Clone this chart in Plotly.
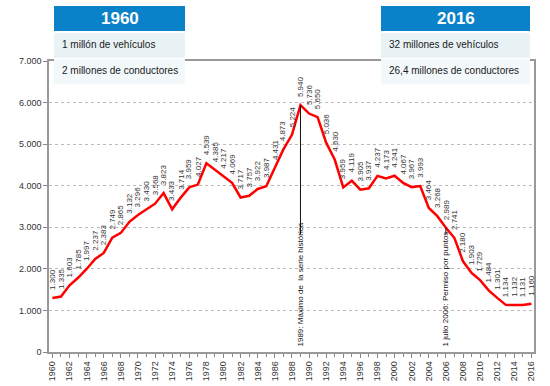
import plotly.graph_objects as go

years = list(range(1960, 2017))
values = [1300, 1335, 1603, 1785, 1997, 2237, 2383, 2749, 2865, 3132,
          3296, 3430, 3568, 3823, 3433, 3714, 3959, 4027, 4539, 4385,
          4217, 4069, 3717, 3757, 3922, 3987, 4431, 4873, 5224, 5940,
          5736, 5650, 5036, 4630, 3959, 4119, 3905, 3937, 4237, 4173,
          4241, 4067, 3967, 3993, 3464, 3268, 2989, 2741, 2180, 1903,
          1729, 1484, 1301, 1134, 1132, 1131, 1160]
xtick_years = list(range(1960, 2017, 2))
ytick_vals = [0, 1000, 2000, 3000, 4000, 5000, 6000, 7000]
box_left = ["1960", "1 millón de vehículos", "2 millones de conductores"]
box_right = ["2016", "32 millones de vehículos", "26,4 millones de conductores"]
events = [(1989, "1989: Máximo de  la serie histórica"),
          (2006, "1 julio 2006: Permiso por puntos")]

W, H = 550, 386
L, R, T, B = 49, 16, 61, 34
PW, PH = W - L - R, H - T - B

def px(x):
    return (x - L) / PW

def py(y):
    return (H - B - y) / PH

FONT = "Liberation Sans, Arial, sans-serif"

fig = go.Figure()
fig.add_trace(go.Scatter(x=years, y=values, mode="lines",
                         line=dict(color="#ff0000", width=2.5),
                         hoverinfo="x+y", showlegend=False))

annotations = []
for yr, v in zip(years, values):
    annotations.append(dict(
        x=yr, y=v, xref="x", yref="y", text=f"{v:,}".replace(",", "."),
        textangle=-90, showarrow=False, xanchor="center", yanchor="bottom",
        yshift=6, font=dict(size=8, color="#333333", family=FONT)))

shapes = []
val_by_year = dict(zip(years, values))
for yr, txt in events:
    annotations.append(dict(
        x=yr, y=0, xref="x", yref="y", text=txt, textangle=-90,
        showarrow=False, xanchor="center", yanchor="bottom", yshift=4,
        font=dict(size=8, color="#111111", family=FONT)))
    shapes.append(dict(type="line", xref="x", yref="y", x0=yr, x1=yr,
                       y0=2830, y1=val_by_year[yr],
                       line=dict(color="#111111", width=1), layer="above"))

def add_box(x0, x1, texts):
    rows = [(6, 31, "#0a82c9"), (33, 58, "#e9f2f5"), (59, 84, "#f3f8fa")]
    for (ya, yb, col) in rows:
        shapes.append(dict(type="rect", xref="paper", yref="paper",
                           x0=px(x0), x1=px(x1), y0=py(yb), y1=py(ya),
                           fillcolor=col, line=dict(width=0), layer="above"))
    annotations.append(dict(x=px((x0 + x1) / 2), y=py(18.5), xref="paper", yref="paper",
                            text=f"<b>{texts[0]}</b>", showarrow=False,
                            xanchor="center", yanchor="middle",
                            font=dict(size=17, color="white", family=FONT)))
    for ty, t in [(44, texts[1]), (70, texts[2])]:
        annotations.append(dict(x=px(x0 + 6), y=py(ty), xref="paper", yref="paper",
                                text=t, showarrow=False, xanchor="left", yanchor="middle",
                                font=dict(size=10, color="#1a1a1a", family=FONT)))

add_box(54, 185, box_left)
add_box(381, 530, box_right)

fig.update_layout(
    width=W, height=H, margin=dict(l=L, r=R, t=T, b=B, autoexpand=False),
    plot_bgcolor="white", paper_bgcolor="white",
    separators=",.",
    font=dict(family=FONT, size=9, color="#333333"),
    annotations=annotations, shapes=shapes, showlegend=False,
    xaxis=dict(range=[1959.6, 2016.3], tickmode="array",
               tickvals=xtick_years, ticktext=[str(y) for y in xtick_years],
               tickangle=270, ticks="outside", ticklen=4, tickcolor="#888888",
               minor=dict(tickmode="array", tickvals=years, ticks="outside",
                          ticklen=3, tickcolor="#888888", showgrid=False),
               showgrid=False, zeroline=False, showline=True,
               linecolor="#999999", linewidth=1.5, mirror=True,
               tickfont=dict(size=9, color="#333333")),
    yaxis=dict(range=[0, 7000], tickvals=ytick_vals,
               ticktext=[f"{v:,}".replace(",", ".") for v in ytick_vals],
               ticks="outside", ticklen=4, tickcolor="#888888",
               showgrid=True, gridcolor="#bbbbbb", griddash="dot", gridwidth=1,
               zeroline=False, showline=True, linecolor="#999999", linewidth=1.5,
               mirror=True, tickfont=dict(size=9, color="#333333")),
)

fig.write_html("out.html", config={"displayModeBar": False},
               post_script="document.body.style.margin='0';document.body.style.overflow='hidden';")
